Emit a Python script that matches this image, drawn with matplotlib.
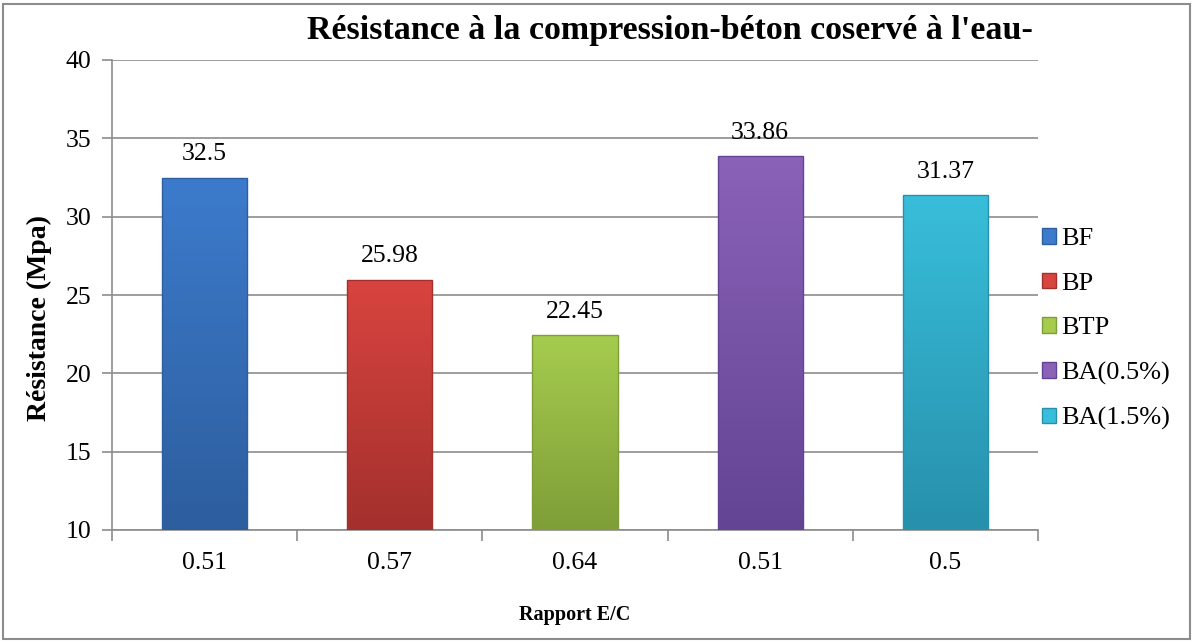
import numpy as np
import matplotlib.pyplot as plt
from matplotlib.patches import Rectangle
from matplotlib.colors import LinearSegmentedColormap

# data
series = ['BF', 'BP', 'BTP', 'BA(0.5%)', 'BA(1.5%)']
ratios = ['0.51', '0.57', '0.64', '0.51', '0.5']
resist = [32.5, 25.98, 22.45, 33.86, 31.37]
colors = ['#3C7BCC', '#D8443F', '#A6CC4E', '#8A62B8', '#38BEDA']
darks = ['#2D5E9E', '#A3302D', '#7E9E38', '#634493', '#2790AC']

plt.rcParams['font.family'] = ['Liberation Serif', 'DejaVu Serif']

fig = plt.figure(figsize=(11.94, 6.42), dpi=100)
ax = fig.add_axes([112/1194, 1-530/642, 926/1194, 470/642])

x = np.arange(len(series))
bars = ax.bar(x, [r - 10 for r in resist], bottom=10, width=0.46,
              facecolor='none', edgecolor=darks, linewidth=1.0, zorder=4)

# vertical shading inside each bar (light top, darker bottom)
grad = np.linspace(1, 0, 100).reshape(-1, 1)
for b, c, d in zip(bars, colors, darks):
    cmap = LinearSegmentedColormap.from_list('g', [d, c])
    x0, y0 = b.get_x(), b.get_y()
    im = ax.imshow(grad, cmap=cmap, aspect='auto', zorder=3,
                   extent=[x0, x0 + b.get_width(), y0, y0 + b.get_height()])
    im.set_clip_path(b)

# value labels
for xi, v in zip(x, resist):
    ax.text(xi, v + 1.1, str(v), ha='center', va='baseline', fontsize=18.5, zorder=5)

ax.set_ylim(10, 40)
ax.set_xlim(-0.5, 4.5)
ax.set_yticks(range(10, 41, 5))
ax.yaxis.grid(True, color='#8c8c8c', linewidth=1.2, zorder=0)
ax.set_xticks(x)
ax.set_xticklabels(ratios, fontsize=18.5)
ax.tick_params(axis='x', length=0, pad=16)
ax.set_xticks(np.arange(-0.5, 5, 1), minor=True)
ax.tick_params(axis='x', which='minor', length=8, color='#8c8c8c', width=1.2)
ax.tick_params(axis='y', labelsize=18.5, length=7, color='#8c8c8c', width=1.2, pad=8)

for s in ['top', 'right']:
    ax.spines[s].set_visible(False)
for s in ['left', 'bottom']:
    ax.spines[s].set_color('#8c8c8c')
    ax.spines[s].set_linewidth(1.2)

ax.set_ylabel('Résistance (Mpa)', fontsize=20, fontweight='bold')
ax.yaxis.set_label_coords(-60/926, (530-318)/470)
ax.set_xlabel('Rapport E/C', fontsize=14.5, fontweight='bold', labelpad=22)

fig.text(670/1194, 1-30/642, "Résistance à la compression-béton coservé à l'eau-",
         ha='center', va='center', fontsize=24.5, fontweight='bold')

# legend
handles = [Rectangle((0, 0), 1, 1, facecolor=c, edgecolor=d) for c, d in zip(colors, darks)]
leg = fig.legend(handles, series, loc='upper left', bbox_to_anchor=(1042/1194, 1-228/642),
                 frameon=False, fontsize=19, handlelength=0.53, handleheight=0.53,
                 handletextpad=0.2, labelspacing=0.85, borderaxespad=0, borderpad=0)

# outer border
fig.add_artist(Rectangle((3/1194, 3/642), 1-7/1194, 1-7/642, transform=fig.transFigure,
                         fill=False, edgecolor='#8c8c8c', linewidth=1.5))

fig.savefig('out.png', dpi=100)
